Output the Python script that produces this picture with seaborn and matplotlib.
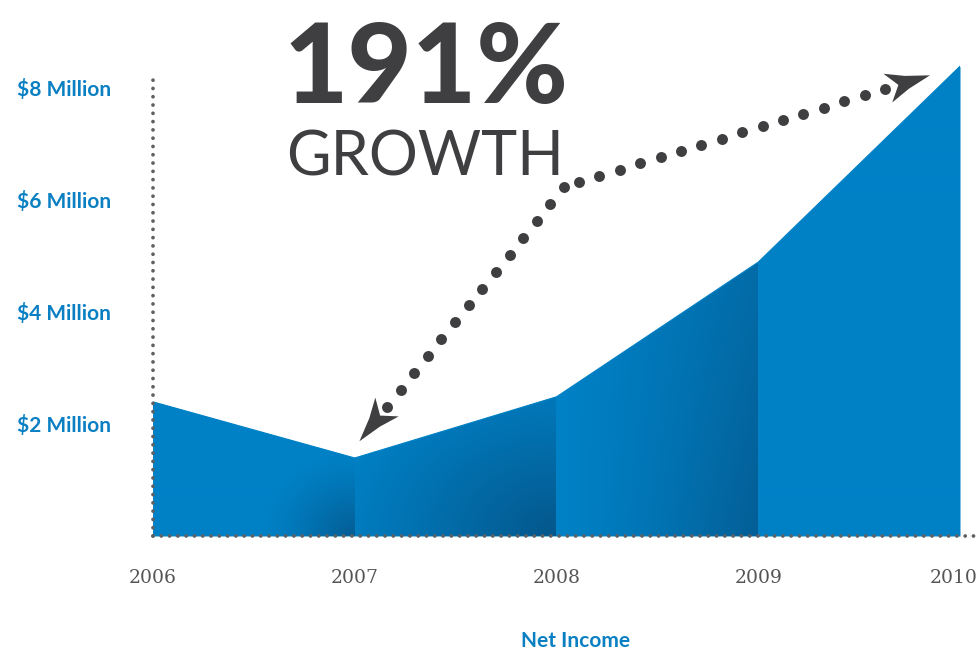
import numpy as np
import matplotlib
matplotlib.use("Agg")
import matplotlib.pyplot as plt
import matplotlib.patches as mpatches
import matplotlib.transforms as mtransforms
from matplotlib.colors import to_rgb
import seaborn as sns
import pandas as pd

# ---------------- data ----------------
years = [2006, 2007, 2008, 2009, 2010]
net_income_musd = [2.39, 1.39, 2.48, 4.88, 8.37]
ytick_values = [2, 4, 6, 8]
ytick_labels = ["$2 Million", "$4 Million", "$6 Million", "$8 Million"]
xtick_labels = ["2006", "2007", "2008", "2009", "2010"]
headline = "191%"
subhead = "GROWTH"
xlabel = "Net Income"

# ---------------- style ----------------
BLUE = "#0081c6"
DARK = np.array([0.03, 0.22, 0.38])
INK = "#3f3f41"
LABEL_BLUE = "#0a80c3"
AXIS_DOT = "#606062"

W, H = 980, 652
sns.set_theme(style="white")
plt.rcParams['font.family'] = ['Lato', 'DejaVu Sans']

fig = plt.figure(figsize=(W / 100, H / 100), dpi=100)
fig.patch.set_facecolor("white")

def fx(x):
    return x / W

def fy(y):
    return 1 - y / H

ymax = 8.6
ax_left, ax_right, ax_bottom = 153, 960, 536
px_per_unit = (536 - 87) / 8
ax_top = ax_bottom - ymax * px_per_unit
ax = fig.add_axes([fx(ax_left), fy(ax_bottom), (ax_right - ax_left) / W,
                   (ax_bottom - ax_top) / H])
ax.set_xlim(years[0], years[-1])
ax.set_ylim(0, ymax)
ax.patch.set_alpha(0)

df = pd.DataFrame({"year": years, "income": net_income_musd})
ax.fill_between(df["year"], df["income"], 0, color=BLUE, linewidth=0, zorder=1)

# shading image clipped to the area
nx, ny = 807, 484
xs = np.linspace(years[0], years[-1], nx)
ys = np.linspace(0, ymax, ny)
X, Y = np.meshgrid(xs, ys)
sx = (ax_right - ax_left) / (years[-1] - years[0])
Yp = Y * px_per_unit
rel = X - years[0]
seg = np.clip(np.floor(rel).astype(int), 0, len(years) - 2)
u = rel - seg
dark = np.zeros_like(X)
d0 = np.hypot((1 - u) * sx, Yp * 1.1)
dark0 = 0.5 * np.clip(1 - d0 / 95, 0, 1) ** 1.3
d1 = np.hypot((1 - u) * sx * 0.85, Yp * 1.1)
dark1 = 0.58 * np.clip(1 - d1 / 200, 0, 1) ** 1.1
dark2 = 0.48 * u ** 1.3 * (0.6 + 0.4 * np.clip(1 - Yp / 274, 0, 1))
dark = np.where(seg == 0, dark0, dark)
dark = np.where(seg == 1, dark1, dark)
dark = np.where(seg == 2, dark2, dark)
base = np.array(to_rgb(BLUE))
img = base[None, None, :] * (1 - dark[..., None]) + DARK[None, None, :] * dark[..., None]
im = ax.imshow(img, extent=(years[0], years[-1], 0, ymax), origin="lower",
               aspect="auto", interpolation="bilinear", zorder=1.5)
verts = [(years[0], 0)] + list(zip(years, net_income_musd)) + [(years[-1], 0)]
clip = mpatches.Polygon(verts, closed=True, transform=ax.transData)
im.set_clip_path(clip)

sns.lineplot(data=df, x="year", y="income", ax=ax, color=BLUE, linewidth=0.8, zorder=2)

# dotted axes
dot_ls = (0, (0.01, 2.2))
ax.plot([years[0], years[0]], [0, (ax_bottom - 72) / px_per_unit], color=AXIS_DOT,
        linestyle=dot_ls, dash_capstyle="round", linewidth=2.7, clip_on=False, zorder=5)
ax.plot([years[0], years[-1] + 0.08], [0, 0], color=AXIS_DOT,
        linestyle=dot_ls, dash_capstyle="round", linewidth=2.7, clip_on=False, zorder=5)

for s in ax.spines.values():
    s.set_visible(False)
ax.set_xlabel("")
ax.set_ylabel("")
ax.set_xticks(years)
ax.set_xticklabels(xtick_labels, fontfamily="DejaVu Serif", fontsize=13.5, color="#555555")
ax.set_yticks(ytick_values)
ax.set_yticklabels(ytick_labels, fontsize=15, fontweight="bold", color=LABEL_BLUE)
ax.tick_params(axis="x", length=0, pad=24)
ax.tick_params(axis="y", length=0, pad=30)
ax.grid(False)
last = ax.get_xticklabels()[-1]
last.set_transform(last.get_transform() + mtransforms.Affine2D().translate(-6, 0))

# overlay for annotations in pixel space
ov = fig.add_axes([0, 0, 1, 1], zorder=10)
ov.set_xlim(0, W)
ov.set_ylim(H, 0)
ov.axis("off")
ov.patch.set_alpha(0)

ov.text(283, 103, headline, fontsize=80, fontweight="black", color=INK,
        ha="left", va="baseline")
ov.text(286, 176, subhead, fontsize=44, fontweight="normal", color=INK,
        ha="left", va="baseline")
ov.text(576, 641, xlabel, fontsize=15, fontweight="bold", color=LABEL_BLUE,
        ha="center", va="center")

# dotted arrow
S = np.array([387, 407])
C = np.array([564, 187])
C2 = np.array([579, 182])
E = np.array([885, 89])
p1 = np.linspace(S, C, 14)
p2 = np.linspace(C2, E, 16)
pts = np.vstack([p1, p2])
ov.scatter(pts[:, 0], pts[:, 1], s=62, color=INK, linewidths=0, zorder=11)


def arrowhead(tip, direction, L=44, w=15, notch=33):
    d = np.asarray(direction, float)
    uu = d / np.hypot(*d)
    nn = np.array([-uu[1], uu[0]])
    tip = np.asarray(tip, float)
    poly = [tip,
            tip - 0.55 * L * uu + 0.45 * w * nn,
            tip - L * uu + w * nn,
            tip - notch * uu,
            tip - L * uu - w * nn,
            tip - 0.55 * L * uu - 0.45 * w * nn]
    ov.add_patch(mpatches.Polygon(poly, closed=True, facecolor=INK, edgecolor="none",
                                  zorder=11))


u1 = (S - C) / np.hypot(*(S - C))
arrowhead(S + 44 * u1, S - C)
u2 = (E - C2) / np.hypot(*(E - C2))
arrowhead(E + 47 * u2, E - C2)

fig.savefig("out.png", dpi=100, facecolor="white")
